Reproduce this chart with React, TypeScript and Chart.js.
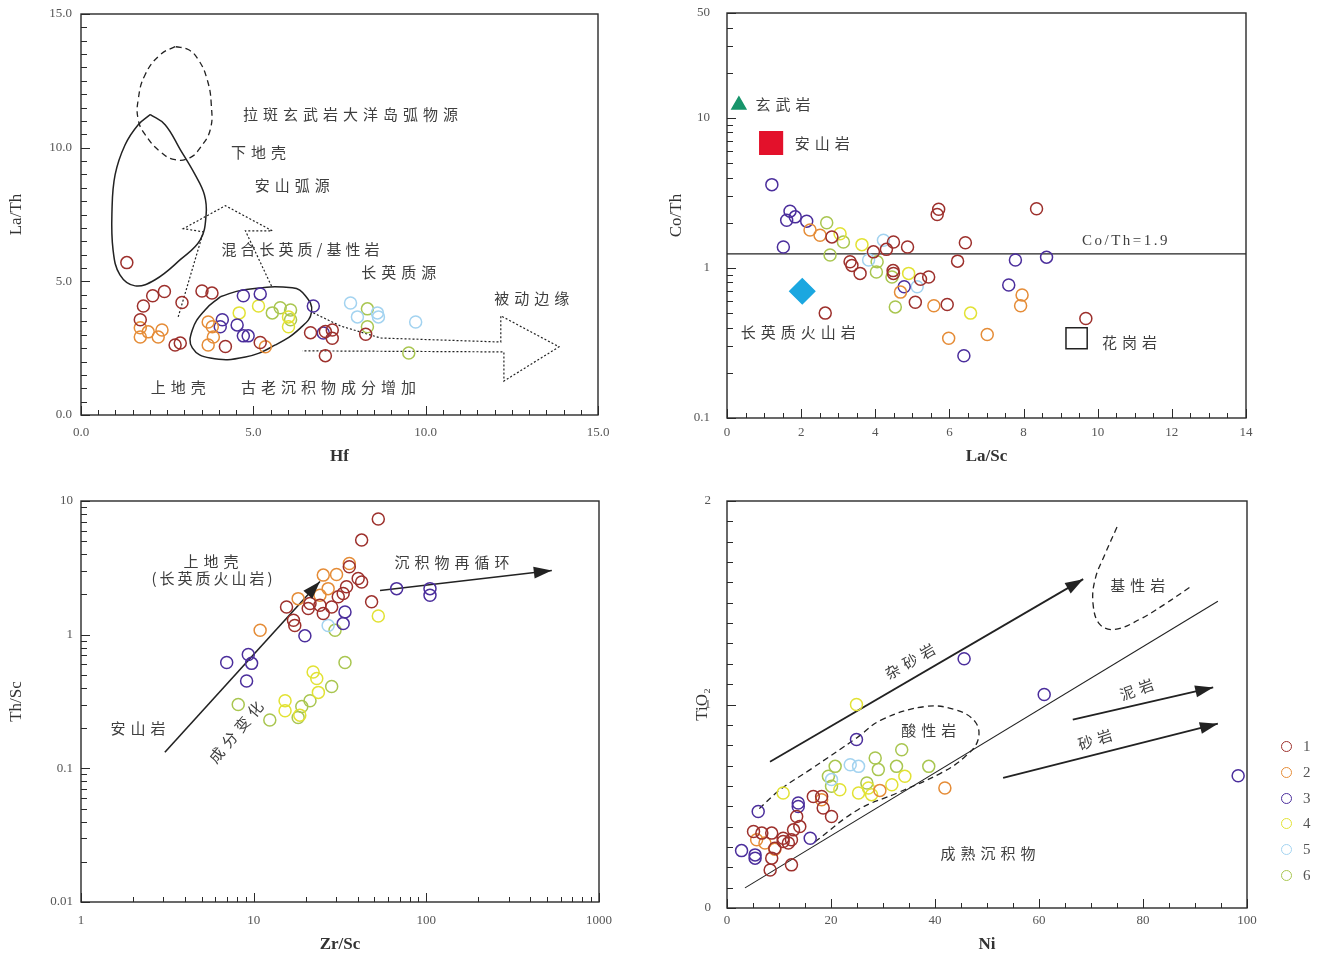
import React, { useEffect, useRef } from "react";
import { Chart, registerables } from "chart.js";
Chart.register(...registerables);

type Pt = [number, number];

const seriesLabels = ["1", "2", "3", "4", "5", "6"];
const seriesColors = ["#9d302c", "#e58c37", "#4b2e9c", "#e2e234", "#a3d3f0", "#a9c650"];

// ---------- Panel A: Hf vs La/Th ----------
const hfLaTh1: Pt[] = [[1.33, 5.7], [1.81, 4.08], [2.08, 4.46], [2.42, 4.62], [2.93, 4.21], [3.51, 4.64], [3.8, 4.56], [2.73, 2.62], [2.88, 2.69], [1.72, 3.56], [4.19, 2.56], [5.2, 2.71], [6.66, 3.08], [7.09, 3.12], [7.29, 3.18], [7.29, 2.87], [7.09, 2.22], [8.26, 3.02]];
const hfLaTh2: Pt[] = [[1.72, 3.26], [1.95, 3.11], [2.24, 2.92], [2.35, 3.18], [1.72, 2.92], [3.69, 3.48], [3.81, 3.3], [3.84, 2.92], [3.69, 2.62], [5.35, 2.55]];
const hfLaTh3: Pt[] = [[4.71, 4.46], [5.2, 4.53], [4.1, 3.56], [4.04, 3.3], [4.53, 3.37], [4.71, 2.96], [4.85, 2.96], [6.74, 4.08], [7.03, 3.07]];
const hfLaTh4: Pt[] = [[4.59, 3.82], [5.15, 4.08], [6.02, 3.67], [6.02, 3.3]];
const hfLaTh5: Pt[] = [[7.82, 4.19], [8.02, 3.67], [8.6, 3.82], [8.63, 3.67], [9.71, 3.48]];
const hfLaTh6: Pt[] = [[5.55, 3.82], [5.78, 4.01], [6.08, 3.93], [6.08, 3.56], [8.31, 3.97], [8.31, 3.3], [9.51, 2.32]];

const aLowerCrust: Pt[] = [[2.73, 13.78], [2.3, 13.48], [1.86, 12.73], [1.66, 11.8], [1.66, 11.05], [1.86, 10.49], [2.3, 9.85], [2.73, 9.55], [3.17, 9.63], [3.46, 10.0], [3.75, 10.67], [3.78, 11.61], [3.66, 12.55], [3.4, 13.3], [3.11, 13.67], [2.73, 13.78]];
const aAndesiticArc: Pt[] = [[2.01, 11.24], [1.66, 10.86], [1.28, 10.11], [0.99, 8.99], [0.9, 7.68], [0.93, 6.18], [1.13, 5.24], [1.57, 4.83], [2.15, 5.06], [2.88, 5.81], [3.46, 6.55], [3.63, 7.49], [3.58, 8.24], [3.31, 8.99], [2.88, 9.93], [2.44, 10.86], [2.01, 11.24]];
const aMixedArrow: Pt[] = [[2.82, 3.67], [3.55, 6.85], [2.97, 6.97], [4.19, 7.83], [5.55, 6.89], [4.77, 6.89], [5.55, 4.76]];
const aFelsicField: Pt[] = [[4.04, 4.42], [4.71, 4.68], [6.13, 4.76], [6.51, 4.46], [6.69, 3.86], [6.37, 3.26], [5.64, 2.62], [4.77, 2.17], [3.75, 2.13], [3.23, 2.51], [3.23, 3.18], [3.6, 3.93], [4.04, 4.42]];
const aPassiveArrow: Pt[] = [[6.74, 3.82], [7.53, 3.33], [8.69, 2.88], [12.18, 2.73], [12.18, 3.71], [13.87, 2.55], [12.27, 1.27], [12.27, 2.36], [6.42, 2.4]];

// ---------- Panel B: La/Sc vs Co/Th ----------
const laScCoTh1: Pt[] = [[2.83, 1.61], [3.32, 1.1], [3.37, 1.04], [3.59, 0.92], [4.49, 1.49], [4.3, 1.33], [4.87, 1.38], [5.71, 2.46], [5.67, 2.27], [6.43, 1.47], [6.22, 1.11], [4.48, 0.96], [4.49, 0.92], [5.22, 0.84], [5.44, 0.87], [5.08, 0.59], [5.94, 0.57], [2.65, 0.5], [8.35, 2.48], [9.68, 0.46], [3.95, 1.28]];
const laScCoTh2: Pt[] = [[2.51, 1.65], [5.58, 0.56], [5.98, 0.34], [7.02, 0.36], [7.96, 0.66], [7.92, 0.56], [4.68, 0.69], [2.24, 1.79]];
const laScCoTh3: Pt[] = [[1.21, 3.59], [1.7, 2.39], [1.61, 2.08], [1.84, 2.19], [2.15, 2.05], [1.52, 1.38], [7.78, 1.13], [8.62, 1.18], [7.6, 0.77], [4.78, 0.75], [6.39, 0.26]];
const laScCoTh4: Pt[] = [[3.64, 1.43], [3.05, 1.69], [6.57, 0.5], [4.9, 0.92]];
const laScCoTh5: Pt[] = [[4.22, 1.53], [3.82, 1.13], [5.13, 0.75]];
const laScCoTh6: Pt[] = [[2.69, 2.0], [2.78, 1.22], [3.14, 1.49], [4.05, 1.1], [4.03, 0.94], [4.54, 0.55], [4.45, 0.87]];

const refBasalt: Pt[] = [[0.32, 12.2]];
const refAndesite: Pt[] = [[1.19, 6.8]];
const refFelsicVolcanic: Pt[] = [[2.03, 0.7]];
const refGranite: Pt[] = [[9.43, 0.34]];
const coThRefLine: Pt[] = [[0, 1.24], [14, 1.24]];

// ---------- Panel C: Zr/Sc vs Th/Sc ----------
const zrScThSc1: Pt[] = [[52.7, 7.33], [42.2, 5.1], [35.8, 3.22], [40.3, 2.63], [42.2, 2.48], [34.5, 2.28], [33.0, 2.03], [30.9, 1.92], [15.5, 1.61], [21.2, 1.71], [20.7, 1.57], [24.2, 1.66], [25.3, 1.44], [17.0, 1.28], [17.3, 1.17], [48.2, 1.76], [28.3, 1.61]];
const zrScThSc2: Pt[] = [[10.9, 1.08], [18.1, 1.86], [25.3, 2.79], [30.2, 2.82], [27.0, 2.21], [35.8, 3.41], [24.2, 1.97]];
const zrScThSc3: Pt[] = [[6.98, 0.62], [9.31, 0.71], [9.73, 0.61], [9.1, 0.45], [19.8, 0.98], [33.8, 1.48], [33.0, 1.21], [67.3, 2.21], [105, 2.21], [105, 1.97]];
const zrScThSc4: Pt[] = [[52.7, 1.38], [23.2, 0.47], [22.1, 0.525], [15.2, 0.32], [15.2, 0.27], [23.7, 0.37], [18.5, 0.25]];
const zrScThSc5: Pt[] = [[27.0, 1.17]];
const zrScThSc6: Pt[] = [[29.6, 1.08], [33.8, 0.62], [28.3, 0.41], [21.2, 0.32], [19.0, 0.29], [18.1, 0.24], [12.4, 0.23], [8.14, 0.3]];

const cCompositionArrow: Pt[] = [[3.06, 0.132], [24.2, 2.5]];
const cRecyclingArrow: Pt[] = [[53.9, 2.14], [533, 3.02]];

// ---------- Panel D: Ni vs TiO2 ----------
const niTiO1: Pt[] = [[5.1, 0.376], [6.7, 0.368], [8.6, 0.368], [10.8, 0.343], [12.4, 0.335], [11.8, 0.319], [16.6, 0.548], [18.2, 0.548], [18.5, 0.491], [20.1, 0.45], [13.4, 0.45], [14.0, 0.4], [12.8, 0.384], [8.6, 0.245], [8.3, 0.187], [12.4, 0.212], [10.8, 0.327], [9.2, 0.294]];
const niTiO2: Pt[] = [[41.9, 0.59], [29.4, 0.578], [18.2, 0.532], [5.7, 0.335], [7.3, 0.319], [9.2, 0.289]];
const niTiO3: Pt[] = [[45.6, 1.225], [61.0, 1.049], [24.9, 0.828], [6.0, 0.474], [13.7, 0.516], [13.7, 0.499], [16.0, 0.343], [2.8, 0.282], [5.4, 0.261], [5.4, 0.245], [98.3, 0.65]];
const niTiO4: Pt[] = [[24.9, 1.0], [10.8, 0.565], [25.3, 0.565], [27.2, 0.59], [27.8, 0.557], [21.7, 0.581], [31.7, 0.606], [34.2, 0.647]];
const niTiO5: Pt[] = [[23.7, 0.704], [25.3, 0.696], [20.1, 0.631]];
const niTiO6: Pt[] = [[33.6, 0.778], [28.5, 0.737], [29.1, 0.68], [20.8, 0.696], [32.6, 0.696], [38.8, 0.696], [19.5, 0.647], [20.1, 0.598], [26.9, 0.614]];

const dGreywackeArrow: Pt[] = [[8.27, 0.719], [68.5, 1.616]];
const dTrendLine: Pt[] = [[3.46, 0.099], [94.4, 1.507]];
const dMudstoneArrow: Pt[] = [[66.5, 0.926], [93.5, 1.084]];
const dSandstoneArrow: Pt[] = [[53.1, 0.64], [94.4, 0.906]];
const dBasicField: Pt[] = [[75.0, 1.872], [72.7, 1.739], [70.8, 1.616], [70.4, 1.493], [71.7, 1.394], [74.6, 1.369], [79.4, 1.419], [84.2, 1.493], [89.0, 1.576]];
const dAcidField: Pt[] = [[16.9, 0.325], [25.2, 0.483], [32.9, 0.567], [41.3, 0.665], [45.8, 0.744], [48.3, 0.828], [47.7, 0.916], [43.8, 0.975], [38.1, 0.99], [29.8, 0.926], [25.0, 0.837], [16.0, 0.68], [10.2, 0.581], [6.0, 0.483]];

// ---------- tick labels ----------
const aTicks = [0, 5, 10, 15];
const bXTicks = [0, 2, 4, 6, 8, 10, 12, 14];
const bYTicks = [0.1, 1, 10, 50];
const cXTicks = [1, 10, 100, 1000];
const cYTicks = [0.01, 0.1, 1, 10];
const dXTicks = [0, 20, 40, 60, 80, 100];
const dYTicks = [0, 1, 2];

const cjk = '"Noto Sans CJK SC", "Noto Sans", sans-serif';
const serif = '"Liberation Serif", "DejaVu Serif", serif';

function range(a: number, b: number, step: number) {
  const out: number[] = [];
  for (let v = a; v <= b + 1e-9; v += step) out.push(+v.toFixed(4));
  return out;
}
function logMinor(decades: number[]) {
  const out: number[] = [];
  decades.forEach((d) => { for (let k = 2; k <= 9; k++) out.push(+(d * k).toFixed(5)); });
  return out;
}

function pointSeries(groups: Pt[][]) {
  return groups.map((g, i) => ({
    label: seriesLabels[i],
    data: g.map(([x, y]) => ({ x, y })),
    showLine: false,
    pointStyle: "circle",
    pointRadius: 6,
    pointHoverRadius: 6,
    pointBorderWidth: 1.5,
    pointBorderColor: seriesColors[i],
    pointBackgroundColor: "rgba(255,255,255,0)",
    borderColor: seriesColors[i],
    backgroundColor: "rgba(255,255,255,0)",
    order: 0,
  }));
}
function curve(pts: Pt[], o: any = {}) {
  return {
    label: "",
    data: pts.map(([x, y]) => ({ x, y })),
    showLine: true,
    pointRadius: 0,
    pointHoverRadius: 0,
    borderColor: "#222",
    borderWidth: 1.4,
    tension: 0,
    fill: false,
    order: 1,
    ...o,
  };
}
function marker(pts: Pt[], style: string, r: number, fill: string, stroke: string) {
  return {
    label: "",
    data: pts.map(([x, y]) => ({ x, y })),
    showLine: false,
    pointStyle: style,
    pointRadius: r,
    pointHoverRadius: r,
    pointBorderWidth: 1.5,
    pointBackgroundColor: fill,
    pointBorderColor: stroke,
    order: 0,
  };
}

type TextItem = { t: string; x: number; y: number; rot?: number; size?: number; sp?: number; font?: string };

const aTexts: TextItem[] = [
  { t: "拉斑玄武岩大洋岛弧物源", x: 7.82, y: 11.24 },
  { t: "下地壳", x: 5.15, y: 9.81 },
  { t: "安山弧源", x: 6.13, y: 8.58 },
  { t: "混合长英质/基性岩", x: 6.37, y: 6.18, sp: 4 },
  { t: "长英质源", x: 9.22, y: 5.32 },
  { t: "被动边缘", x: 13.08, y: 4.38 },
  { t: "上地壳", x: 2.82, y: 1.05 },
  { t: "古老沉积物成分增加", x: 7.18, y: 1.05 },
];
const bTexts: TextItem[] = [
  { t: "玄武岩", x: 1.51, y: 12.4 },
  { t: "安山岩", x: 2.57, y: 6.81 },
  { t: "长英质火山岩", x: 1.92, y: 0.374 },
  { t: "花岗岩", x: 10.86, y: 0.321 },
  { t: "Co/Th=1.9", x: 10.73, y: 1.51, font: serif, size: 15, sp: 2.5 },
];
const cTexts: TextItem[] = [
  { t: "上地壳", x: 5.66, y: 3.53 },
  { t: "(长英质火山岩)", x: 5.74, y: 2.63, sp: 3 },
  { t: "沉积物再循环", x: 140.6, y: 3.47 },
  { t: "安山岩", x: 2.14, y: 0.2 },
  { t: "成分变化", x: 7.89, y: 0.187, rot: -50 },
];
const dTexts: TextItem[] = [
  { t: "杂砂岩", x: 35.2, y: 1.212, rot: -30 },
  { t: "基性岩", x: 79.0, y: 1.586 },
  { t: "泥岩", x: 78.8, y: 1.074, rot: -20 },
  { t: "砂岩", x: 70.8, y: 0.828, rot: -18 },
  { t: "酸性岩", x: 38.8, y: 0.872 },
  { t: "成熟沉积物", x: 50.2, y: 0.271 },
];

function makeTexts(items: TextItem[]) {
  return {
    id: "texts",
    afterDatasetsDraw(chart: any) {
      const ctx = chart.ctx;
      const xs = chart.scales.x, ys = chart.scales.y;
      items.forEach((it) => {
        const px = xs.getPixelForValue(it.x), py = ys.getPixelForValue(it.y);
        const sp = it.sp ?? 5;
        ctx.save();
        ctx.translate(px, py);
        if (it.rot) ctx.rotate((it.rot * Math.PI) / 180);
        ctx.font = `${it.size || 15}px ${it.font || cjk}`;
        (ctx as any).letterSpacing = `${sp}px`;
        ctx.fillStyle = "#3e3e3e";
        ctx.textAlign = "center";
        ctx.textBaseline = "middle";
        ctx.fillText(it.t, sp / 2, 0);
        (ctx as any).letterSpacing = "0px";
        ctx.restore();
      });
    },
  };
}

const arrowPlugin = {
  id: "arrowHeads",
  afterDatasetsDraw(chart: any) {
    const ctx = chart.ctx;
    chart.data.datasets.forEach((ds: any, i: number) => {
      if (!ds.arrow) return;
      const pts = chart.getDatasetMeta(i).data;
      const a = pts[pts.length - 2], b = pts[pts.length - 1];
      const ang = Math.atan2(b.y - a.y, b.x - a.x);
      const L = ds.arrowLen || 17, W = ds.arrowW || 6;
      const c = Math.cos(ang), s = Math.sin(ang);
      ctx.save();
      ctx.fillStyle = ds.borderColor;
      ctx.beginPath();
      ctx.moveTo(b.x, b.y);
      ctx.lineTo(b.x - L * c + W * s, b.y - L * s - W * c);
      ctx.lineTo(b.x - L * c - W * s, b.y - L * s + W * c);
      ctx.closePath();
      ctx.fill();
      ctx.restore();
    });
  },
};

function makeFrame(s: any) {
  return {
    id: "frame",
    afterDraw(chart: any) {
      const { ctx, chartArea } = chart;
      const { left, right, top, bottom } = chartArea;
      const xs = chart.scales.x, ys = chart.scales.y;
      ctx.save();
      ctx.strokeStyle = "#2a2a2a";
      ctx.lineWidth = 1;
      const seg = (x1: number, y1: number, x2: number, y2: number) => {
        ctx.beginPath(); ctx.moveTo(x1, y1); ctx.lineTo(x2, y2); ctx.stroke();
      };
      s.xMinor.forEach((v: number) => { const p = Math.round(xs.getPixelForValue(v)) + 0.5; seg(p, bottom, p, bottom - 5); });
      s.xMajor.forEach((v: number) => { const p = Math.round(xs.getPixelForValue(v)) + 0.5; seg(p, bottom, p, bottom - 9); });
      s.yMinor.forEach((v: number) => { const p = Math.round(ys.getPixelForValue(v)) + 0.5; seg(left, p, left + 6, p); });
      s.yMajor.forEach((v: number) => { const p = Math.round(ys.getPixelForValue(v)) + 0.5; seg(left, p, left + 9, p); });
      ctx.lineWidth = 1.4;
      ctx.strokeRect(left, top, right - left, bottom - top);
      ctx.restore();
    },
  };
}

function buildConfig(s: any): any {
  const tickFont = { family: serif, size: 13 };
  const lh = 17 * 1.2;
  const zeroPad = (sc: any) => { sc.paddingTop = 0; sc.paddingBottom = 0; sc.paddingLeft = 0; sc.paddingRight = 0; };
  return {
    type: "scatter",
    data: { datasets: s.datasets },
    options: {
      responsive: false,
      animation: false,
      devicePixelRatio: 1,
      events: [],
      layout: { autoPadding: false, padding: { top: s.padTop, right: s.padRight, left: 0, bottom: 0 } },
      plugins: { legend: { display: false }, tooltip: { enabled: false } },
      scales: {
        x: {
          type: s.xType, min: s.xMin, max: s.xMax, position: "bottom",
          afterBuildTicks: (sc: any) => { sc.ticks = s.xMajor.map((v: number) => ({ value: v })); },
          afterFit: (sc: any) => { sc.height = s.xAxisH; zeroPad(sc); },
          ticks: { autoSkip: false, maxRotation: 0, minRotation: 0, padding: s.xLabelPad, font: tickFont, color: "#555", callback: (v: any) => s.xFmt(Number(v)) },
          grid: { display: false, drawTicks: false },
          border: { display: false },
          title: { display: true, text: s.xTitle, font: { family: serif, size: 17, weight: "bold" }, color: "#333", padding: { top: 0, bottom: s.xTitleOff - lh / 2 } },
        },
        y: {
          type: s.yType, min: s.yMin, max: s.yMax, position: "left",
          afterBuildTicks: (sc: any) => { sc.ticks = s.yMajor.map((v: number) => ({ value: v })); },
          afterFit: (sc: any) => { sc.width = s.yAxisW; zeroPad(sc); },
          ticks: { autoSkip: false, padding: s.yLabelPad, font: tickFont, color: "#555", callback: (v: any) => s.yFmt(Number(v)) },
          grid: { display: false, drawTicks: false },
          border: { display: false },
          title: { display: true, text: s.yTitle, font: { family: serif, size: 17 }, color: "#333", padding: { top: s.yTitleOff - lh / 2, bottom: 0 } },
        },
      },
    },
    plugins: [makeFrame(s), makeTexts(s.texts), arrowPlugin],
  };
}

const fix1 = (v: number) => v.toFixed(1);
const plain = (v: number) => String(v);

const specA = {
  box: { x: 0, y: 0, w: 660, h: 480 },
  xType: "linear", yType: "linear", xMin: 0, xMax: 15, yMin: 0, yMax: 15,
  xMajor: aTicks, yMajor: aTicks, xMinor: range(0, 15, 0.5), yMinor: range(0, 15, 0.5),
  xFmt: fix1, yFmt: fix1, xTitle: "Hf", yTitle: "La/Th",
  yAxisW: 81, xAxisH: 65, padTop: 14, padRight: 62,
  yLabelPad: 9, xLabelPad: 10, yTitleOff: 17, xTitleOff: 23,
  texts: aTexts,
  datasets: [
    ...pointSeries([hfLaTh1, hfLaTh2, hfLaTh3, hfLaTh4, hfLaTh5, hfLaTh6]),
    curve(aLowerCrust, { borderDash: [6, 4], tension: 0.45, borderWidth: 1.3 }),
    curve(aAndesiticArc, { tension: 0.4, borderWidth: 1.5 }),
    curve(aMixedArrow, { borderDash: [2, 2], borderWidth: 1.2 }),
    curve(aFelsicField, { tension: 0.45, borderWidth: 1.5 }),
    curve(aPassiveArrow, { borderDash: [2, 2], borderWidth: 1.2 }),
  ],
};

const specB = {
  box: { x: 660, y: 0, w: 667, h: 480 },
  xType: "linear", yType: "logarithmic", xMin: 0, xMax: 14, yMin: 0.1, yMax: 50,
  xMajor: bXTicks, yMajor: bYTicks, xMinor: range(0, 14, 0.5), yMinor: [...logMinor([0.1, 1]), 20, 30, 40],
  xFmt: plain, yFmt: plain, xTitle: "La/Sc", yTitle: "Co/Th",
  yAxisW: 67, xAxisH: 62, padTop: 13, padRight: 81,
  yLabelPad: 17, xLabelPad: 7, yTitleOff: 17, xTitleOff: 23,
  texts: bTexts,
  datasets: [
    ...pointSeries([laScCoTh1, laScCoTh2, laScCoTh3, laScCoTh4, laScCoTh5, laScCoTh6]),
    marker(refBasalt, "triangle", 8, "#17956b", "#17956b"),
    marker(refAndesite, "rect", 16, "#e3112b", "#e3112b"),
    marker(refFelsicVolcanic, "rectRot", 12.5, "#1ba7e0", "#1ba7e0"),
    marker(refGranite, "rect", 15, "rgba(255,255,255,0)", "#222"),
    curve(coThRefLine, { borderWidth: 1.3 }),
  ],
};

const specC = {
  box: { x: 0, y: 480, w: 660, h: 480 },
  xType: "logarithmic", yType: "logarithmic", xMin: 1, xMax: 1000, yMin: 0.01, yMax: 10,
  xMajor: cXTicks, yMajor: cYTicks, xMinor: logMinor([1, 10, 100]), yMinor: logMinor([0.01, 0.1, 1]),
  xFmt: plain, yFmt: plain, xTitle: "Zr/Sc", yTitle: "Th/Sc",
  yAxisW: 81, xAxisH: 58, padTop: 21, padRight: 61,
  yLabelPad: 8, xLabelPad: 11, yTitleOff: 17, xTitleOff: 15,
  texts: cTexts,
  datasets: [
    ...pointSeries([zrScThSc1, zrScThSc2, zrScThSc3, zrScThSc4, zrScThSc5, zrScThSc6]),
    curve(cCompositionArrow, { borderWidth: 1.6, arrow: true, arrowLen: 18, arrowW: 6 }),
    curve(cRecyclingArrow, { borderWidth: 1.6, arrow: true, arrowLen: 18, arrowW: 6 }),
  ],
};

const specD = {
  box: { x: 660, y: 480, w: 667, h: 480 },
  xType: "linear", yType: "linear", xMin: 0, xMax: 100, yMin: 0, yMax: 2,
  xMajor: dXTicks, yMajor: dYTicks, xMinor: range(0, 100, 5), yMinor: range(0, 2, 0.1),
  xFmt: plain, yFmt: plain, xTitle: "Ni", yTitle: "TiO₂",
  yAxisW: 67, xAxisH: 52, padTop: 21, padRight: 80,
  yLabelPad: 16, xLabelPad: 5, yTitleOff: 43, xTitleOff: 15,
  texts: dTexts,
  datasets: [
    ...pointSeries([niTiO1, niTiO2, niTiO3, niTiO4, niTiO5, niTiO6]),
    curve(dGreywackeArrow, { borderWidth: 1.8, arrow: true, arrowLen: 18, arrowW: 6 }),
    curve(dTrendLine, { borderWidth: 1.1 }),
    curve(dMudstoneArrow, { borderWidth: 1.8, arrow: true, arrowLen: 18, arrowW: 6 }),
    curve(dSandstoneArrow, { borderWidth: 1.8, arrow: true, arrowLen: 18, arrowW: 6 }),
    curve(dBasicField, { borderDash: [6, 4], tension: 0.4, borderWidth: 1.3 }),
    curve(dAcidField, { borderDash: [6, 4], tension: 0.4, borderWidth: 1.3 }),
  ],
};

function Panel({ spec }: { spec: any }) {
  const ref = useRef<HTMLCanvasElement>(null);
  useEffect(() => {
    const chart = new Chart(ref.current as HTMLCanvasElement, buildConfig(spec));
    return () => chart.destroy();
  }, []);
  const b = spec.box;
  return (
    <canvas
      ref={ref}
      width={b.w}
      height={b.h}
      style={{ position: "absolute", left: b.x, top: b.y, width: b.w, height: b.h }}
    />
  );
}

export default function App() {
  return (
    <div style={{ position: "fixed", left: 0, top: 0, width: 1327, height: 960, background: "#fff", overflow: "hidden" }}>
      <Panel spec={specA} />
      <Panel spec={specB} />
      <Panel spec={specC} />
      <Panel spec={specD} />
      {seriesLabels.map((l, i) => (
        <div key={l} style={{ position: "absolute", left: 1281, top: 740 + i * 25.8, height: 13, display: "flex", alignItems: "center" }}>
          <div style={{ width: 9, height: 9, borderRadius: "50%", border: `1.5px solid ${seriesColors[i]}` }} />
          <span style={{ marginLeft: 11, fontFamily: serif, fontSize: 15, color: "#555", lineHeight: "13px" }}>{l}</span>
        </div>
      ))}
    </div>
  );
}
